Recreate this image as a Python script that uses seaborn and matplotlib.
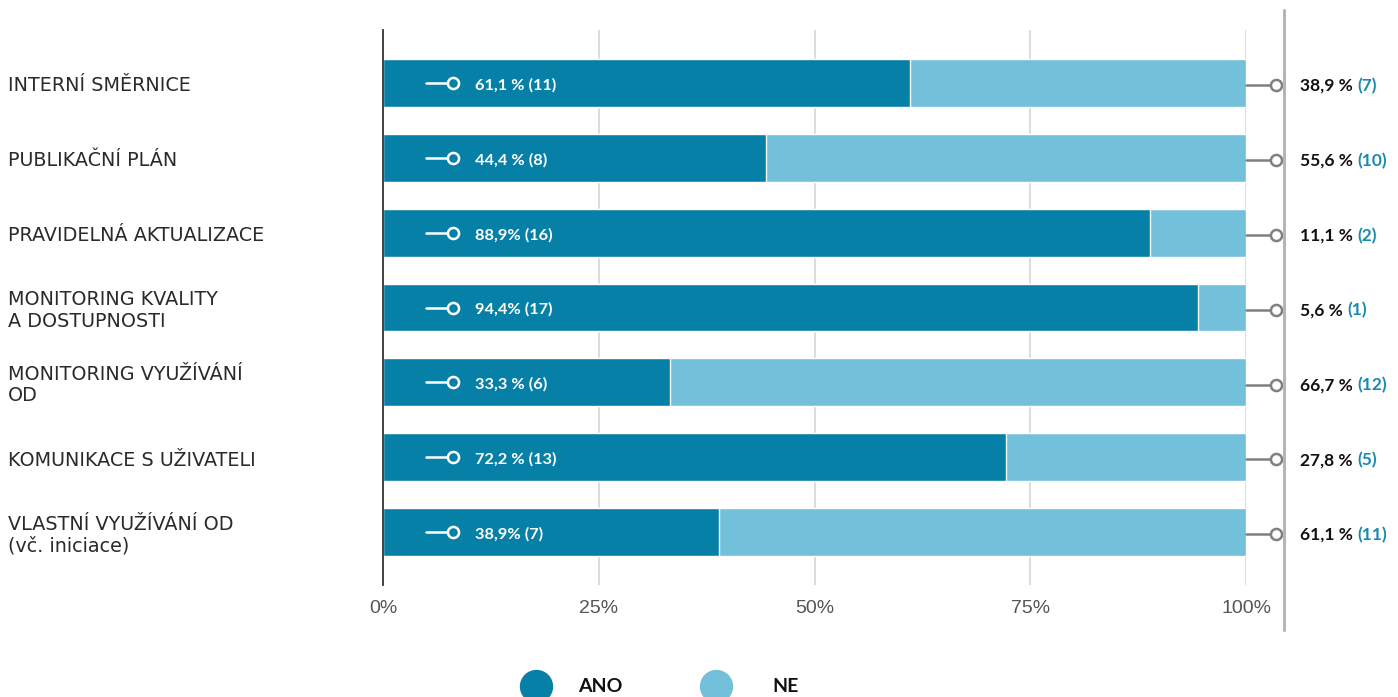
import pandas as pd
import numpy as np
import seaborn as sns
import matplotlib.pyplot as plt
from matplotlib.lines import Line2D

# Data
categories = ["INTERNÍ SMĚRNICE", "PUBLIKAČNÍ PLÁN", "PRAVIDELNÁ AKTUALIZACE",
              "MONITORING KVALITY\nA DOSTUPNOSTI", "MONITORING VYUŽÍVÁNÍ\nOD",
              "KOMUNIKACE S UŽIVATELI", "VLASTNÍ VYUŽÍVÁNÍ OD\n(vč. iniciace)"]
ano_pct = [61.1, 44.4, 88.9, 94.4, 33.3, 72.2, 38.9]
ne_pct = [38.9, 55.6, 11.1, 5.6, 66.7, 27.8, 61.1]
ano_labels = ["61,1 % (11)", "44,4 % (8)", "88,9% (16)", "94,4% (17)",
              "33,3 % (6)", "72,2 % (13)", "38,9% (7)"]
ne_pct_labels = ["38,9 %", "55,6 %", "11,1 %", "5,6 %", "66,7 %", "27,8 %", "61,1 %"]
ne_counts = ["(7)", "(10)", "(2)", "(1)", "(12)", "(5)", "(11)"]
ticks = [0, 25, 50, 75, 100]

dark = "#0780a7"
light = "#72c0da"

df = pd.DataFrame({"cat": categories, "ano": ano_pct, "ne": ne_pct})
df["total"] = df["ano"] + df["ne"]

sns.set_style("white")
plt.rcParams['font.family'] = ['Lato', 'DejaVu Sans']

fig = plt.figure(figsize=(13.98, 6.97), dpi=100)
ax = fig.add_axes([383 / 1398, 1 - 585 / 697, 863 / 1398, 555 / 697])

sns.barplot(data=df, y="cat", x="total", color=light, orient="h",
            width=0.64, ax=ax, saturation=1)
sns.barplot(data=df, y="cat", x="ano", color=dark, orient="h",
            width=0.64, ax=ax, saturation=1)

ax.set_xlim(0, 100)
ax.set_ylim(6.708, -0.708)
ax.set_xticks(ticks)
ax.set_xticklabels([f"{t}%" for t in ticks], color="#555555", fontsize=14,
                   family="Liberation Sans")
ax.tick_params(axis="x", length=0, pad=11)
ax.set_yticks([])
ax.set_xlabel("")
ax.set_ylabel("")
for s in ["top", "right", "bottom"]:
    ax.spines[s].set_visible(False)
ax.spines["left"].set_color("#333333")
ax.spines["left"].set_linewidth(1.3)
ax.set_axisbelow(True)
for t in ticks[1:]:
    ax.axvline(t, color="#d6d6d6", lw=1.2, zorder=0)

# left category labels
for i, c in enumerate(categories):
    ax.text(-43.45, i + 0.04, c, ha="left", va="center", fontsize=13.8,
            family="DejaVu Sans", fontweight="normal",
            color="#2a2a2a", linespacing=1.15)

# labels inside bars
for i, lab in enumerate(ano_labels):
    ax.plot([5.0, 7.8], [i, i], color="white", lw=1.8, zorder=5)
    ax.plot([8.1], [i], marker="o", ms=8, mfc=dark, mec="white", mew=1.8, zorder=6)
    ax.text(10.7, i + 0.03, lab, ha="left", va="center", color="white",
            fontsize=11.8, fontweight="bold", zorder=6)

# labels on the right
fig.canvas.draw()
renderer = fig.canvas.get_renderer()
for i in range(len(categories)):
    ax.plot([100, 103.2], [i + 0.03, i + 0.03], color="#808080", lw=1.8,
            clip_on=False, zorder=5)
    ax.plot([103.5], [i + 0.03], marker="o", ms=8, mfc="white", mec="#808080",
            mew=1.8, clip_on=False, zorder=6)
    t1 = ax.text(106.3, i + 0.04, ne_pct_labels[i] + " ", ha="left", va="center",
                 color="#111111", fontsize=12.5, fontweight="bold")
    bb = t1.get_window_extent(renderer)
    x2 = ax.transData.inverted().transform((bb.x1, 0))[0]
    ax.text(x2, i + 0.04, ne_counts[i], ha="left", va="center", color="#1a8ab0",
            fontsize=12.5, fontweight="bold")

# gray vertical separator
fig.add_artist(Line2D([1284 / 1398, 1284 / 1398], [1 - 10 / 697, 1 - 630 / 697],
                      color="#b5b5b5", lw=2.2))

# legend drawn by hand
leg_y = 1 - 686 / 697
for cx, tx, col, name in [(536, 578, dark, "ANO"), (716, 772, light, "NE")]:
    fig.add_artist(Line2D([cx / 1398], [leg_y], marker="o", ms=23, ls="",
                          mfc=col, mec=col, transform=fig.transFigure))
    fig.text(tx / 1398, leg_y, name, ha="left", va="center", fontsize=14,
             fontweight="bold", color="#111111")

fig.savefig("out.png", dpi=100)
